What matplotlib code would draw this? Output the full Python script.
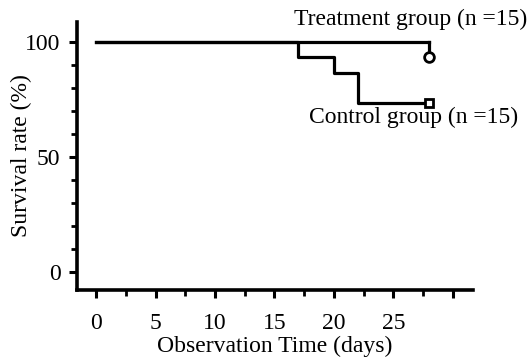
import matplotlib.pyplot as plt

# Kaplan-Meier style survival curves
treat_days = [0, 28]
treat_surv = [100, 100]
treat_end = [28, 93.3]

ctrl_days = [0, 17, 20, 22, 28]
ctrl_surv = [100, 93.3, 86.7, 73.3, 73.3]

xticks = [0, 5, 10, 15, 20, 25, 30]
xticklabels = ["0", "5", "10", "15", "20", "25", ""]
yticks = [0, 50, 100]

plt.rcParams['font.family'] = ['Liberation Serif', 'DejaVu Serif']

fig = plt.figure(figsize=(5.32, 3.61), dpi=100)
ax = fig.add_axes([0.145, 0.197, 0.744, 0.742])

ax.step(treat_days, treat_surv, where='post', color='black', lw=2.3)
ax.plot([treat_days[-1], treat_end[0]], [treat_surv[-1], treat_end[1]], color='black', lw=2.3)
ax.plot(treat_end[0], treat_end[1], marker='o', ms=7, mfc='white', mec='black', mew=2)

ax.step(ctrl_days, ctrl_surv, where='post', color='black', lw=2.3)
ax.plot(ctrl_days[-1], ctrl_surv[-1], marker='s', ms=6, mfc='white', mec='black', mew=2)

ax.text(36.3, 110, "Treatment group (n =15)", ha='right', va='center', fontsize=17, clip_on=False)
ax.text(35.5, 67, "Control group (n =15)", ha='right', va='center', fontsize=17, clip_on=False)

ax.set_xlim(-1.6, 31.7)
ax.set_ylim(-7.8, 108.7)
ax.set_xticks(xticks)
ax.set_xticklabels(xticklabels)
ax.set_xticks([2.5, 7.5, 12.5, 17.5, 22.5, 27.5], minor=True)
ax.set_yticks(yticks)
ax.set_yticks([10, 20, 30, 40, 60, 70, 80, 90], minor=True)

for s in ['top', 'right']:
    ax.spines[s].set_visible(False)
for s in ['left', 'bottom']:
    ax.spines[s].set_linewidth(2.6)

ax.tick_params(which='major', length=6, width=2.2, labelsize=17)
ax.tick_params(which='minor', length=4, width=2)
ax.tick_params(axis='x', which='major', pad=11)
ax.tick_params(axis='y', which='major', pad=6)

ax.set_xlabel("Observation Time (days)", fontsize=17, labelpad=1)
ax.set_ylabel("Survival rate (%)", fontsize=17)
ax.yaxis.set_label_coords(-0.114, 0.5)

fig.savefig("out.png", dpi=100)
